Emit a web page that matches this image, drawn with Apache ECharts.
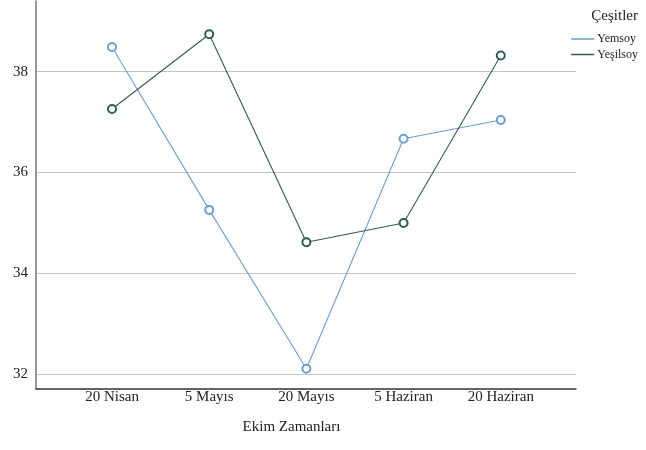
<!DOCTYPE html>
<html>
<head>
<meta charset="utf-8">
<script src="https://cdn.jsdelivr.net/npm/echarts@6/dist/echarts.min.js"></script>
<style>html,body{margin:0;padding:0;background:#fff}#c{width:646px;height:450px}</style>
</head>
<body>
<div id="c"></div>
<script>
const categories = ['20 Nisan', '5 Mayıs', '20 Mayıs', '5 Haziran', '20 Haziran'];
const yemsoy = [38.49, 35.26, 32.11, 36.67, 37.04];
const yesilsoy = [37.26, 38.74, 34.62, 35.00, 38.32];
const yTicks = [32, 34, 36, 38];
const seriesNames = ['Yemsoy', 'Yeşilsoy'];

const font = 'Liberation Serif';
const chart = echarts.init(document.getElementById('c'));
const toPts = arr => arr.map((v, i) => [i, v]);
chart.setOption({
  animation: false,
  title: {
    text: 'Çeşitler', right: 3, top: 4,
    textStyle: { fontFamily: font, fontSize: 15, fontWeight: 'normal', color: '#222' }
  },
  legend: {
    data: seriesNames, orient: 'vertical', right: 3, top: 28,
    icon: 'rect', itemWidth: 23, itemHeight: 1.5, itemGap: 3.5,
    textStyle: { fontFamily: font, fontSize: 12, color: '#222', padding: [0, 0, 0, -2] }
  },
  grid: { left: 36, right: 70, top: 1, bottom: 61.5, containLabel: false },
  xAxis: {
    type: 'value', min: -0.782, max: 4.774,
    name: 'Ekim Zamanları', nameLocation: 'middle', nameGap: 31,
    nameTextStyle: { fontFamily: font, fontSize: 15, color: '#222', padding: [0, 29, 0, 0] },
    axisLine: { show: true, onZero: false, lineStyle: { color: '#333', width: 1.5 } },
    axisTick: { show: false },
    splitLine: { show: false },
    axisLabel: {
      customValues: [0, 1, 2, 3, 4], margin: 1,
      formatter: v => categories[Math.round(v)] || '',
      fontFamily: font, fontSize: 15, color: '#222'
    }
  },
  yAxis: {
    type: 'value', min: 31.72, max: 39.40,
    axisLine: { show: true, onZero: false, lineStyle: { color: '#777', width: 1.5 } },
    axisTick: { show: false },
    axisLabel: { customValues: yTicks, margin: 8, fontFamily: font, fontSize: 15, color: '#222' },
    splitLine: { show: true, showMinLine: false, showMaxLine: false, lineStyle: { color: '#c4c4c4', width: 1.2 } }
  },
  series: [
    {
      name: seriesNames[0], type: 'line', data: toPts(yemsoy),
      symbol: 'emptyCircle', symbolSize: 8,
      lineStyle: { color: '#6a9fd0', width: 1.1 },
      itemStyle: { color: '#6a9fd0', borderWidth: 0.8 },
      color: '#6a9fd0'
    },
    {
      name: seriesNames[1], type: 'line', data: toPts(yesilsoy),
      symbol: 'emptyCircle', symbolSize: 8,
      lineStyle: { color: '#2f5f50', width: 1.1 },
      itemStyle: { color: '#2f5f50', borderWidth: 0.8 },
      color: '#2f5f50'
    }
  ]
});
</script>
</body>
</html>
